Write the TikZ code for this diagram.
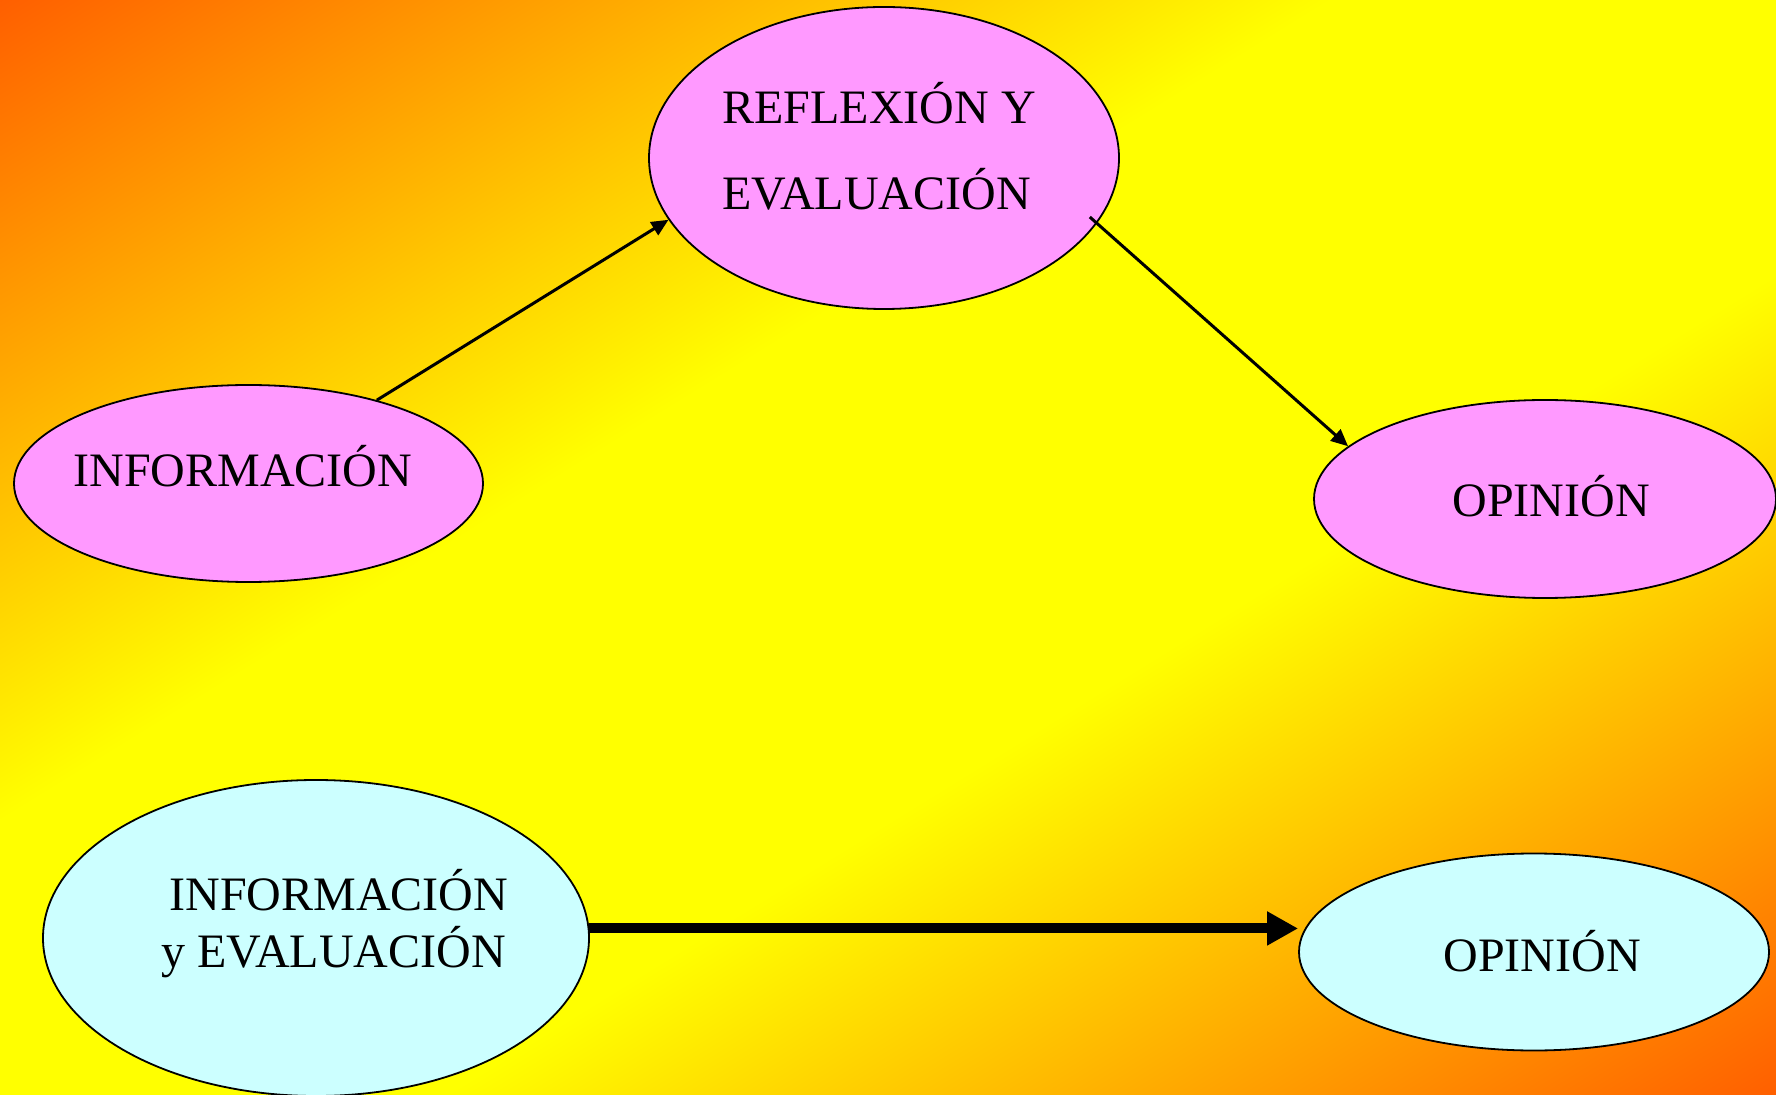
\documentclass[tikz,border=0pt]{standalone}
\usepackage{fontspec}
\setmainfont{Liberation Serif}
\usetikzlibrary{shapes.geometric,arrows.meta,calc}
\definecolor{pinkfill}{RGB}{255,153,255}
\definecolor{cyanfill}{RGB}{204,255,255}
\pgfdeclarefunctionalshading{bgshade}{\pgfpoint{0bp}{0bp}}{\pgfpoint{100bp}{100bp}}{}{
  sub abs 50 div 0.25 sub dup abs add 2 div 0.75 div 0.627 mul 1 exch sub 1 exch 0
}
\tikzset{
  ellbase/.style={ellipse, draw=black, line width=0.9pt, inner sep=0pt},
  ellpink/.style={ellbase, fill=pinkfill},
  ellcyan/.style={ellbase, fill=cyanfill},
  txt/.style={font=\fontsize{24}{28}\selectfont, inner sep=0pt, anchor=base west},
  thinarrow/.style={line width=1.5pt, -{Triangle[length=8.5pt,width=7.5pt]}},
  bigarrow/.style={line width=5pt, -{Triangle[length=15.5pt,width=16pt]}}
}
\begin{document}
\begin{tikzpicture}[x=0.5pt,y=-0.5pt]
\shade[shading=bgshade] (0,0) rectangle (1776,1095);
\useasboundingbox (0,0) rectangle (1776,1095);

\node[ellpink, minimum width=235pt, minimum height=151pt] (refl) at (884,158) {};
\node[ellpink, minimum width=234.5pt, minimum height=98.5pt] (info) at (248.5,483.5) {};
\node[ellpink, minimum width=231pt, minimum height=99pt] (opin1) at (1545,499) {};
\node[ellcyan, minimum width=273pt, minimum height=158pt] (ie) at (316,938) {};
\node[ellcyan, minimum width=235pt, minimum height=98.5pt] (opin2) at (1534,952) {};

\draw[thinarrow] (info.33) -- (refl.196);
\draw[thinarrow] ($(refl.center)!0.955!(refl.344)$) -- (opin1.165);
\draw[bigarrow] (ie.2) -- (ie.2 -| opin2.west);

\node[txt] (t1a) at (722,124) {REFLEXIÓN Y};
\node[txt] (t1b) at (722,210) {EVALUACIÓN};
\node[txt] (t2) at (73,487) {INFORMACIÓN};
\node[txt] (t3) at (1452,517) {OPINIÓN};
\node[txt] (t4a) at (169,910) {INFORMACIÓN};
\node[txt] (t4b) at (161,967) {y EVALUACIÓN};
\node[txt] (t5) at (1443,971) {OPINIÓN};
\end{tikzpicture}
\end{document}
